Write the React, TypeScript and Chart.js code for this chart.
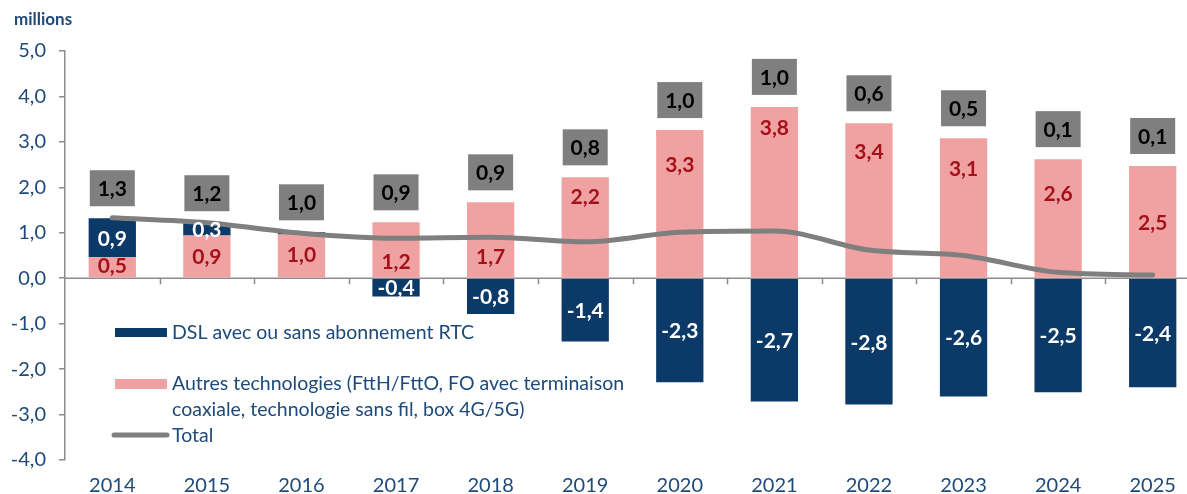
import React, { useEffect, useRef } from "react";
import { Chart, registerables } from "chart.js";

Chart.register(...registerables);

// ---------- data ----------
const years = ["2014", "2015", "2016", "2017", "2018", "2019", "2020", "2021", "2022", "2023", "2024", "2025"];
const dslValues = [0.86, 0.27, 0.05, -0.4, -0.79, -1.39, -2.29, -2.71, -2.78, -2.6, -2.51, -2.4];
const autresValues = [0.46, 0.94, 0.96, 1.23, 1.67, 2.22, 3.26, 3.77, 3.41, 3.08, 2.62, 2.47];
const totalValues = [1.33, 1.22, 0.99, 0.88, 0.9, 0.8, 1.01, 1.04, 0.62, 0.5, 0.13, 0.07];
const yTickValues = [-4, -3, -2, -1, 0, 1, 2, 3, 4, 5];

const dslLabel = "DSL avec ou sans abonnement RTC";
const autresLabelLines = ["Autres technologies (FttH/FttO, FO avec terminaison", "coaxiale, technologie sans fil, box 4G/5G)"];
const totalLabel = "Total";
const unitLabel = "millions";

// label placement (px below the top of the pink segment) — layout only
const autresLabelDrop = [9, 22, 21, 40, 55, 20, 35, 21, 29, 31, 35, 57];

// ---------- styles ----------
const FONT = "Lato, 'Open Sans', sans-serif";
const NAVY = "#0B3A68";
const PINK = "#F0A2A2";
const DARKRED = "#A3111B";
const GRAY = "#7F7F7F";
const TEXT = "#1D4A7A";
const AXIS = "#8C8C8C";

const fmt = (v: number) => v.toFixed(1).replace(".", ",");

const labelsPlugin = {
  id: "labelsPlugin",
  beforeDatasetsDraw(chart: any) {
    const { ctx, chartArea, scales } = chart;
    const y0 = scales.y.getPixelForValue(0);
    ctx.save();
    ctx.strokeStyle = AXIS;
    ctx.lineWidth = 1.5;
    ctx.beginPath();
    ctx.moveTo(chartArea.left, y0);
    ctx.lineTo(chartArea.right, y0);
    const n = years.length;
    const w = (chartArea.right - chartArea.left) / n;
    for (let i = 1; i <= n; i++) {
      const x = Math.round(chartArea.left + i * w) + 0.5;
      ctx.moveTo(x, y0);
      ctx.lineTo(x, y0 + 6);
    }
    ctx.stroke();
    ctx.restore();
  },
  afterDatasetsDraw(chart: any) {
    const { ctx } = chart;
    const autMeta = chart.getDatasetMeta(0);
    const dslMeta = chart.getDatasetMeta(1);
    ctx.save();
    ctx.textAlign = "center";
    ctx.textBaseline = "middle";
    ctx.font = `bold 21px ${FONT}`;
    years.forEach((_, i) => {
      const d = dslMeta.data[i];
      const a = autMeta.data[i];
      // Autres labels
      ctx.fillStyle = DARKRED;
      ctx.fillText(fmt(autresValues[i]), a.x, a.y + autresLabelDrop[i]);
      // DSL labels
      if (Math.abs(dslValues[i]) >= 0.1) {
        ctx.fillStyle = "#FFFFFF";
        ctx.fillText(fmt(dslValues[i]), d.x, (d.y + d.base) / 2 + 1);
      }
      // Total box
      let top = a.y;
      if (dslValues[i] > 0) top = Math.min(top, d.y);
      const cy = top - 30;
      const bw = 45;
      const bh = 36;
      ctx.fillStyle = GRAY;
      ctx.fillRect(a.x - bw / 2, cy - bh / 2, bw, bh);
      ctx.fillStyle = "#000000";
      ctx.fillText(fmt(totalValues[i]), a.x, cy + 1);
    });
    ctx.restore();
  },
  afterDraw(chart: any) {
    const { ctx } = chart;
    ctx.save();
    // unit label
    ctx.fillStyle = TEXT;
    ctx.font = `bold 17px ${FONT}`;
    ctx.textAlign = "left";
    ctx.textBaseline = "middle";
    ctx.fillText(unitLabel, 14, 20);
    // legend
    ctx.font = `19.5px ${FONT}`;
    ctx.fillStyle = NAVY;
    ctx.fillRect(115, 328, 52, 9);
    ctx.fillStyle = TEXT;
    ctx.fillText(dslLabel, 172, 333);
    ctx.fillStyle = PINK;
    ctx.fillRect(115, 379, 52, 10);
    ctx.fillStyle = TEXT;
    ctx.fillText(autresLabelLines[0], 172, 384);
    ctx.fillText(autresLabelLines[1], 172, 410);
    ctx.strokeStyle = GRAY;
    ctx.lineWidth = 5;
    ctx.lineCap = "round";
    ctx.beginPath();
    ctx.moveTo(114, 435);
    ctx.lineTo(167, 435);
    ctx.stroke();
    ctx.fillText(totalLabel, 172, 436);
    ctx.restore();
  },
};

export default function App() {
  const canvasRef = useRef<HTMLCanvasElement | null>(null);

  useEffect(() => {
    if (!canvasRef.current) return;
    Chart.defaults.font.family = FONT;
    const chart = new Chart(canvasRef.current, {
      type: "bar",
      data: {
        labels: years,
        datasets: [
          {
            type: "bar",
            label: autresLabelLines.join(" "),
            data: autresValues,
            backgroundColor: PINK,
            barPercentage: 0.5,
            categoryPercentage: 1,
            order: 1,
          },
          {
            type: "bar",
            label: dslLabel,
            data: dslValues,
            backgroundColor: NAVY,
            barPercentage: 0.5,
            categoryPercentage: 1,
            order: 1,
          },
          {
            type: "line",
            label: totalLabel,
            data: totalValues,
            stack: "total",
            borderColor: GRAY,
            borderWidth: 5,
            pointRadius: 0,
            cubicInterpolationMode: "monotone",
            borderCapStyle: "round",
            borderJoinStyle: "round",
            fill: false,
            order: 0,
          } as any,
        ],
      },
      options: {
        animation: false,
        responsive: true,
        maintainAspectRatio: false,
        layout: { padding: { top: 51, left: 0, right: 0, bottom: 0 } },
        plugins: { legend: { display: false }, tooltip: { enabled: false } },
        scales: {
          x: {
            stacked: true,
            grid: { display: false, drawTicks: false },
            border: { display: false },
            ticks: { font: { size: 20 }, color: TEXT, padding: 14, maxRotation: 0 },
            afterFit: (s: any) => {
              s.height = 34;
            },
          },
          y: {
            stacked: true,
            min: -4,
            max: 5,
            afterBuildTicks: (s: any) => {
              s.ticks = yTickValues.map((v) => ({ value: v }));
            },
            ticks: {
              font: { size: 20 },
              color: TEXT,
              padding: 13,
              callback: (v: any) => fmt(Number(v)),
            },
            grid: { drawOnChartArea: false, drawTicks: true, tickLength: 6, color: AXIS, lineWidth: 1.5 },
            border: { display: true, color: AXIS, width: 1.5 },
            afterFit: (s: any) => {
              s.width = 65;
            },
          },
        },
      },
      plugins: [labelsPlugin],
    });
    return () => chart.destroy();
  }, []);

  return (
    <div style={{ position: "fixed", left: 0, top: 0, width: 1187, height: 494, overflow: "hidden", background: "#fff" }}>
      <div style={{ position: "relative", width: 1200, height: 494 }}>
        <canvas ref={canvasRef} />
      </div>
    </div>
  );
}
